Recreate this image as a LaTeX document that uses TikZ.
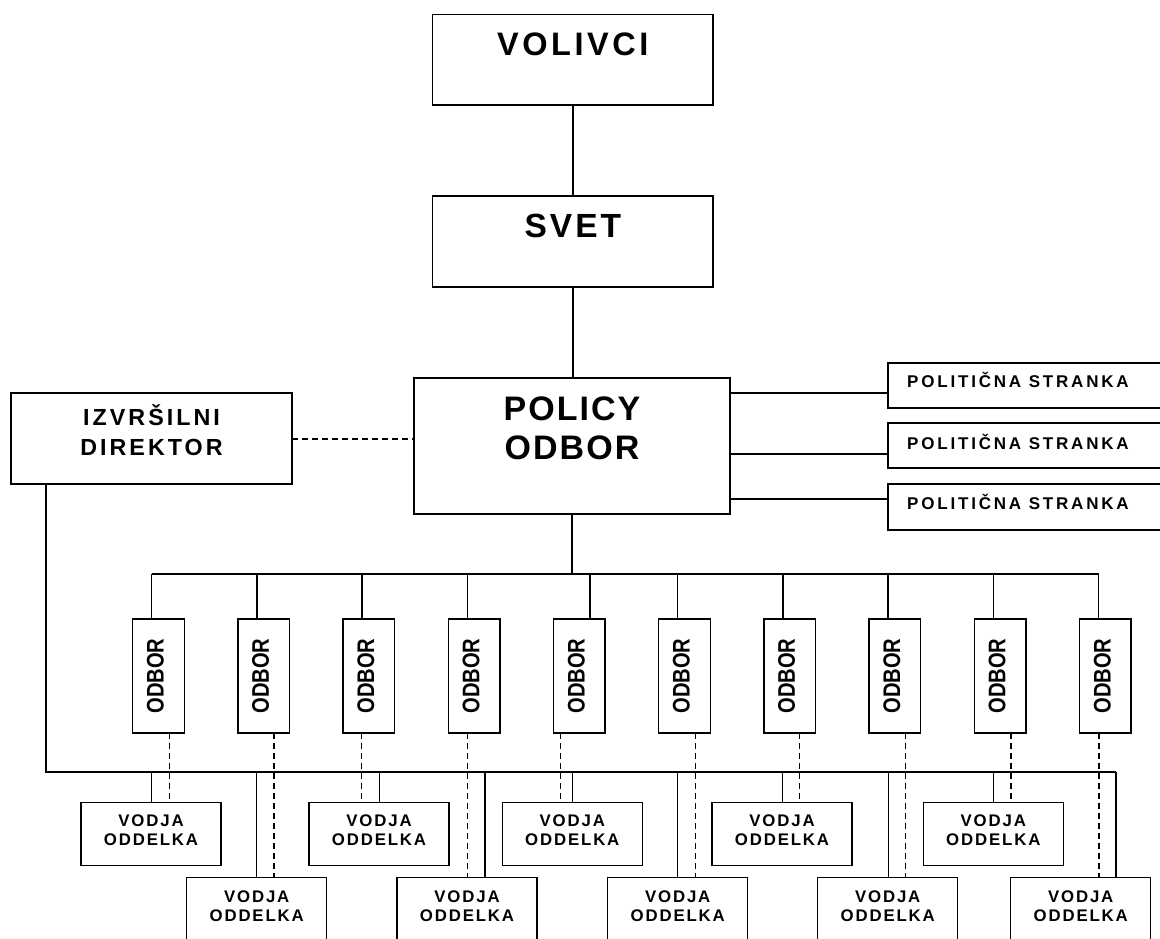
\documentclass[tikz,border=0pt]{standalone}
\usepackage{fontspec}
\setmainfont{Liberation Sans}
\newcommand{\lsp}[1]{\addfontfeatures{LetterSpace=#1}}
\newcommand{\fsz}[1]{\fontsize{#1}{#1}\selectfont\bfseries}
\begin{document}
\begin{tikzpicture}[x=1pt,y=-1pt,
  bx/.style={draw=black, line width=1.3pt, inner sep=0pt, outer sep=0pt, anchor=north west},
  ln/.style={line width=1.3pt},
  dl/.style={line width=1.3pt, dash pattern=on 6pt off 4pt},
  lbl/.style={inner sep=0pt, anchor=base},
  bigt/.style={lbl, font=\fsz{32.5}\lsp{11}},
  polt/.style={lbl, font=\fsz{34}\lsp{6}},
  dirt/.style={lbl, font=\fsz{23.3}\lsp{13}},
  pst/.style={lbl, anchor=base west, font=\fsz{17}\lsp{16.5}},
  vt/.style={lbl, font=\fsz{16.8}\lsp{11}},
  odt/.style={lbl, rotate=90, font=\fsz{24}}
]
\useasboundingbox (0,0) rectangle (1160,938);
\clip (0,0) rectangle (1160,938);
\fill[white] (0,0) rectangle (1160,938);

% top boxes
\node[bx, minimum width=280.3pt, minimum height=90.3pt] (vol) at (432.7,14.7) {};
\node[bigt] (volT) at (572.8,55) {VOLIVCI};
\node[bx, minimum width=280.3pt, minimum height=91pt] (svet) at (432.7,196) {};
\node[bigt, font=\fsz{33.5}\lsp{9}] (svetT) at (572.8,237.3) {SVET};
\node[bx, line width=2.5pt, minimum width=316pt, minimum height=136pt] (pol) at (414,378) {};
\node[polt] (polT1) at (572,420) {POLICY};
\node[polt] (polT2) at (572,459) {ODBOR};

\draw[ln] (vol.south) -- (svet.north);
\draw[ln] (svet.south) -- (svet.south |- pol.north);

% director
\node[bx, minimum width=281pt, minimum height=91pt] (dir) at (11,393) {};
\node[dirt] (dirT1) at (151.5,425) {IZVRŠILNI};
\node[dirt] (dirT2) at (151.5,455) {DIREKTOR};
\coordinate (dm) at (292,439);
\draw[dl] (dm) -- (dm -| pol.west);

% parties
\node[bx, minimum width=280pt, minimum height=45pt] (ps1) at (888,363) {};
\node[bx, minimum width=280pt, minimum height=45pt] (ps2) at (888,423) {};
\node[bx, minimum width=280pt, minimum height=46pt] (ps3) at (888,484) {};
\node[pst] (ps1T) at (907,387.7) {POLITIČNA STRANKA};
\node[pst] (ps2T) at (907,449) {POLITIČNA STRANKA};
\node[pst] (ps3T) at (907,509) {POLITIČNA STRANKA};
\coordinate (pc1) at (888,393);
\coordinate (pc2) at (888,454);
\coordinate (pc3) at (888,499);
\draw[ln] (pc1 -| pol.east) -- (pc1);
\draw[ln] (pc2 -| pol.east) -- (pc2);
\draw[ln] (pc3 -| pol.east) -- (pc3);

% committee bus
\coordinate (busL) at (151.7,574);
\coordinate (busR) at (1098.5,574);
\draw[ln] (pol.south) -- (pol.south |- busL);
\draw[ln] (busL) -- (busR);

\foreach \i/\tx/\dx in {0/151.7/169.3, 1/256.9/274, 2/362.1/361.7, 3/467.3/467.3, 4/590/560.3, 5/677.7/695.3, 6/782.9/799.3, 7/888.1/905.7, 8/993.3/1011, 9/1098.5/1099} {
  \pgfmathsetmacro\lx{132.7+105.2*\i}
  \node[bx, minimum width=51.6pt, minimum height=114pt] (odb\i) at (\lx,619) {};
  \node[odt] (odbT\i) at (\lx+31,676) {\scalebox{0.84}[1]{ODBOR}};
  \coordinate (top\i) at (\tx,574);
  \draw[ln] (top\i) -- (top\i |- odb\i.north);
  \coordinate (dsh\i) at (\dx,733);
}

% director bus
\coordinate (dd) at (46,484);
\coordinate (bc) at (1116,772);

\foreach \j/\lx/\ty/\sx/\k in {1/81/802.3/151.3/0, 2/186.7/877.7/256.7/1, 3/309/802.3/379.3/2, 4/397/877.7/485/3, 5/502.3/802.3/572.3/4, 6/607.7/877.7/677.7/5, 7/712/802.3/782.7/6, 8/817.7/877.7/888.3/7, 9/923.3/802.3/993.3/8, 10/1010.7/877.7/1116/9} {
  \node[bx, minimum width=140pt, minimum height=63pt] (vod\j) at (\lx,\ty) {};
  \node[vt] (vodA\j) at (\lx+70,\ty+24.3) {VODJA};
  \node[vt] (vodB\j) at (\lx+70,\ty+43.5) {ODDELKA};
  \coordinate (sd\j) at (\sx,772);
  \draw[ln] (sd\j) -- (sd\j |- vod\j.north);
  \draw[dl] (dsh\k) -- (dsh\k |- vod\j.north);
}
\draw[ln] (dd) |- (bc);
\end{tikzpicture}
\end{document}
